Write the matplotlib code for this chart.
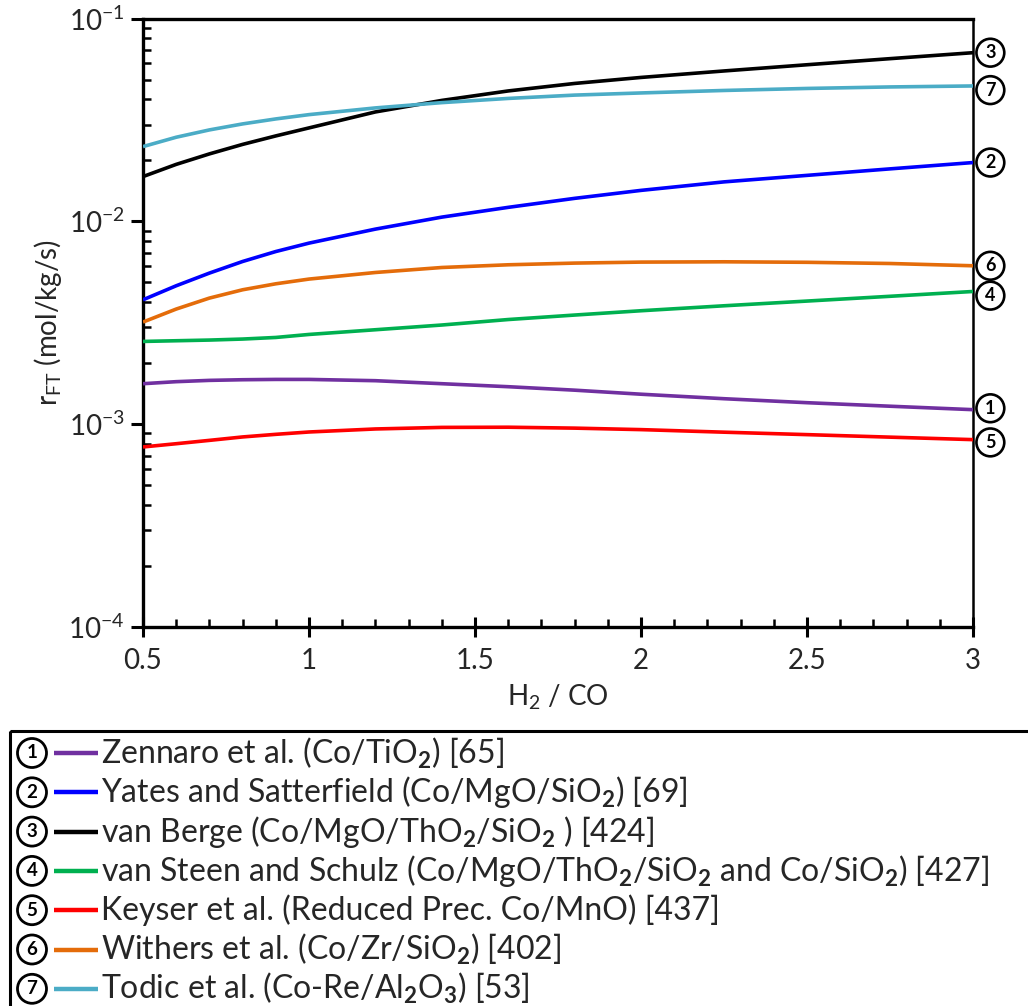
import numpy as np
import matplotlib
matplotlib.use("Agg")
import matplotlib.pyplot as plt
from matplotlib.ticker import FixedLocator, FuncFormatter, LogLocator, MultipleLocator, NullFormatter
from matplotlib.patches import Rectangle

FONT = "Lato"
plt.rcParams["font.family"] = [FONT, "DejaVu Sans"]
plt.rcParams["mathtext.fontset"] = "custom"
plt.rcParams["mathtext.rm"] = FONT
plt.rcParams["mathtext.it"] = FONT + ":italic"
plt.rcParams["mathtext.bf"] = FONT + ":bold"
TXT = "#262626"

# ---- donnees : vitesse FT [mol/kg/s] vs rapport H2/CO ----
H2CO = [0.5, 0.6, 0.7, 0.8, 0.9, 1.0, 1.2, 1.4, 1.6, 1.8, 2.0, 2.25, 2.5, 2.75, 3.0]

R_ZENNARO  = [0.001583, 0.001620, 0.001644, 0.001656, 0.001662, 0.001662, 0.001638, 0.001583,
              0.001530, 0.001471, 0.001405, 0.001335, 0.001276, 0.001226, 0.001179]
R_YATES    = [0.004104, 0.004812, 0.005557, 0.006339, 0.007098, 0.007809, 0.009154, 0.01049,
              0.01172, 0.01298, 0.01421, 0.01565, 0.01685, 0.01814, 0.01949]
R_VANBERGE = [0.01662, 0.01909, 0.02150, 0.02395, 0.02637, 0.02888, 0.03462, 0.03946,
              0.04394, 0.04784, 0.05122, 0.05513, 0.05915, 0.06339, 0.06783]
R_VANSTEEN = [0.002558, 0.002578, 0.002598, 0.002628, 0.002676, 0.002769, 0.002921, 0.003082,
              0.003280, 0.003451, 0.003624, 0.003834, 0.004045, 0.004270, 0.004510]
R_KEYSER   = [0.000772, 0.000801, 0.000832, 0.000865, 0.000891, 0.000915, 0.000947, 0.000964,
              0.000966, 0.000956, 0.000940, 0.000913, 0.000888, 0.000863, 0.000839]
R_WITHERS  = [0.003187, 0.003694, 0.004184, 0.004598, 0.004921, 0.005192, 0.005595, 0.005921,
              0.006106, 0.006224, 0.006295, 0.006317, 0.006281, 0.006196, 0.006038]
R_TODIC    = [0.02336, 0.02598, 0.02823, 0.03022, 0.03198, 0.03358, 0.03624, 0.03848,
              0.04036, 0.04191, 0.04295, 0.04418, 0.04520, 0.04598, 0.04650]

SERIES = [R_ZENNARO, R_YATES, R_VANBERGE, R_VANSTEEN, R_KEYSER, R_WITHERS, R_TODIC]
COLORS = ["#7030A0", "#0000FF", "#000000", "#00B050", "#FF0000", "#E46C0A", "#4BACC6"]
LABELS = [
    r"Zennaro et al. (Co/TiO$_\mathbf{2}$) [65]",
    r"Yates and Satterfield (Co/MgO/SiO$_\mathbf{2}$) [69]",
    r"van Berge (Co/MgO/ThO$_\mathbf{2}$/SiO$_\mathbf{2}$ ) [424]",
    r"van Steen and Schulz (Co/MgO/ThO$_\mathbf{2}$/SiO$_\mathbf{2}$ and Co/SiO$_\mathbf{2}$) [427]",
    r"Keyser et al. (Reduced Prec. Co/MnO) [437]",
    r"Withers et al. (Co/Zr/SiO$_\mathbf{2}$) [402]",
    r"Todic et al. (Co-Re/Al$_\mathbf{2}$O$_\mathbf{3}$) [53]",
]
# decalage vertical des pastilles de droite (points) pour eviter les chevauchements
NUDGE = [-1, 0, 0, 3, 2, 0, 3]
Y_TICKS = [1e-4, 1e-3, 1e-2, 1e-1]

W, H = 1028, 1006
fig = plt.figure(figsize=(W / 100, H / 100), dpi=100)
ax = fig.add_axes([143 / W, 1 - 627 / H, (973 - 143) / W, (627 - 18.5) / H])

for y, c in zip(SERIES, COLORS):
    ax.plot(H2CO, y, color=c, lw=2.6, solid_capstyle="butt", solid_joinstyle="round", zorder=3)

ax.set_yscale("log")
ax.set_xlim(0.5, 3)
ax.set_ylim(1e-4, 1e-1)
ax.yaxis.set_major_locator(FixedLocator(Y_TICKS))
ax.yaxis.set_major_formatter(FuncFormatter(lambda v, p: r"$10^{%d}$" % round(np.log10(v))))
ax.yaxis.set_minor_locator(LogLocator(base=10, subs=np.arange(2, 10)))
ax.yaxis.set_minor_formatter(NullFormatter())
ax.xaxis.set_major_locator(MultipleLocator(0.5))
ax.xaxis.set_minor_locator(MultipleLocator(0.1))
ax.xaxis.set_major_formatter(FuncFormatter(lambda v, p: "%g" % v))

ax.tick_params(axis="y", which="major", direction="out", length=9, width=2.2,
               labelsize=20, labelcolor=TXT, pad=4)
ax.tick_params(axis="y", which="minor", direction="in", length=6, width=1.8)
ax.tick_params(axis="x", which="major", direction="inout", length=14, width=2.2,
               labelsize=20, labelcolor=TXT, pad=8)
ax.tick_params(axis="x", which="minor", direction="in", length=6, width=1.8)
for s in ["left", "bottom", "top"]:
    ax.spines[s].set_linewidth(2.4)
ax.spines["right"].set_linewidth(1.8)

ax.set_ylabel(r"r$_{\mathrm{FT}}$ (mol/kg/s)", fontsize=20, color=TXT, labelpad=3)
ax.set_xlabel(r"H$_2$ / CO", fontsize=20, color=TXT, labelpad=6)

circ = dict(boxstyle="circle,pad=0.3", fc="white", ec="black", lw=1.9)
for i, y in enumerate(SERIES):
    ax.annotate(str(i + 1), xy=(H2CO[-1], y[-1]), xytext=(12.5, -NUDGE[i]),
                textcoords="offset points", ha="center", va="center",
                fontsize=13, fontweight="bold", bbox=circ, annotation_clip=False, zorder=5)

# ---- legende encadree sous le graphe (coordonnees pixel) ----
lg = fig.add_axes([0, 0, 1, 1], zorder=-1)
lg.set_xlim(0, W)
lg.set_ylim(H, 0)
lg.axis("off")
lg.add_patch(Rectangle((10, 731), W + 20, 300, fill=False, ec="black", lw=2.2, clip_on=False))
circ_lg = dict(boxstyle="circle,pad=0.32", fc="white", ec="black", lw=2.0)
row0, dy = 753, 39.3
for i, (lab, c) in enumerate(zip(LABELS, COLORS)):
    yy = row0 + i * dy
    lg.text(32, yy, str(i + 1), ha="center", va="center", fontsize=13.5,
            fontweight="bold", bbox=circ_lg)
    lg.plot([54, 98], [yy, yy], color=c, lw=3.2, solid_capstyle="butt")
    lg.text(101, yy, lab, ha="left", va="center", fontsize=23, color=TXT)

fig.savefig("out.png", dpi=100)
